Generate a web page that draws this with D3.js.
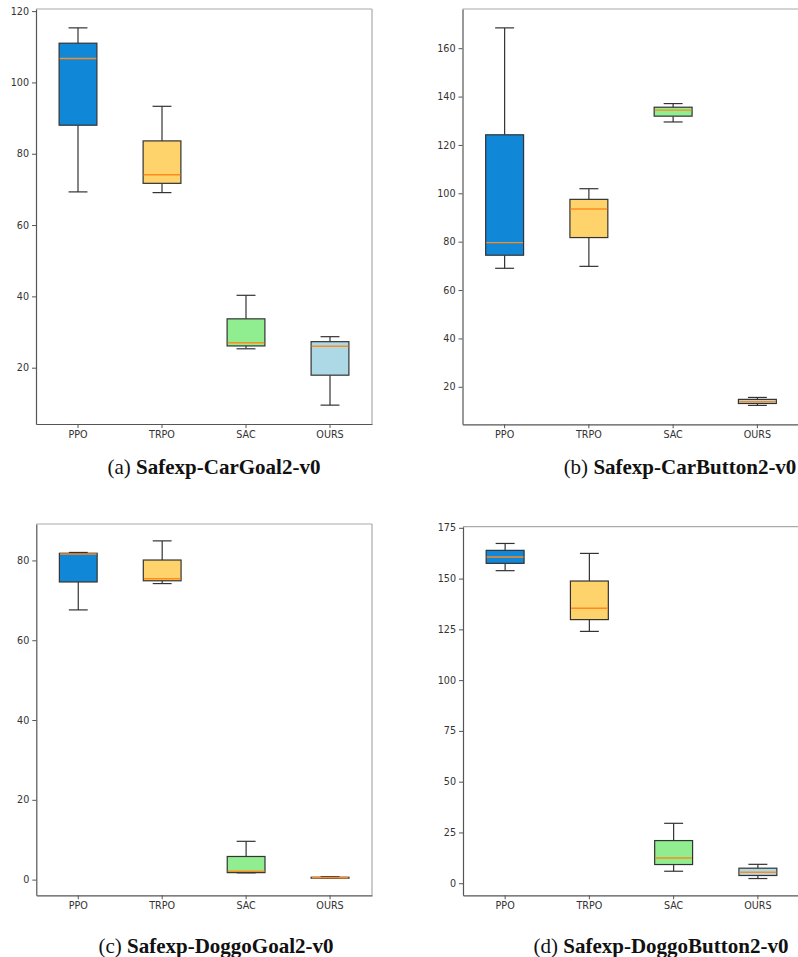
<!DOCTYPE html>
<html>
<head>
<meta charset="utf-8">
<script src="https://cdn.jsdelivr.net/npm/d3@7"></script>
<style>
  html, body { margin: 0; padding: 0; background: #fff; }
  svg { display: block; }
  .tick text { font-family: "DejaVu Sans", sans-serif; font-size: 9.6px; fill: #333; }
  .caption { font-family: "Liberation Serif", "Times New Roman", serif; font-size: 21px; fill: #111; }
</style>
</head>
<body>
<svg id="chart" width="798" height="957"></svg>
<script>
// Algorithms compared in every environment
const methods = ["PPO", "TRPO", "SAC", "OURS"];
const boxFills = ["#1088d7", "#ffd36b", "#90ee90", "#add8e6"];

// Box statistics per method: [lower whisker, Q1, median, Q3, upper whisker]
const carGoal = [
  [69.3, 88.0, 106.7, 111.0, 115.3],
  [69.1, 71.7, 74.1, 83.6, 93.3],
  [25.3, 26.1, 27.0, 33.7, 40.3],
  [9.5, 17.9, 26.0, 27.3, 28.7]
];
const carButton = [
  [69.0, 74.4, 79.6, 124.2, 168.4],
  [69.8, 81.7, 93.5, 97.5, 101.9],
  [129.5, 131.9, 134.4, 135.6, 137.1],
  [12.3, 13.1, 13.8, 14.8, 15.6]
];
const doggoGoal = [
  [67.6, 74.6, 81.6, 81.8, 82.0],
  [74.2, 74.9, 75.4, 80.1, 84.9],
  [1.7, 1.75, 2.1, 5.8, 9.6],
  [0.3, 0.35, 0.45, 0.6, 0.7]
];
const doggoButton = [
  [153.9, 157.5, 160.6, 163.9, 167.3],
  [124.0, 129.8, 135.4, 148.8, 162.4],
  [5.9, 9.2, 12.4, 21.0, 29.5],
  [2.3, 3.8, 5.4, 7.4, 9.3]
];

// Y tick values per environment
const carGoalTicks = [20, 40, 60, 80, 100, 120];
const carButtonTicks = [20, 40, 60, 80, 100, 120, 140, 160];
const doggoGoalTicks = [0, 20, 40, 60, 80];
const doggoButtonTicks = [0, 25, 50, 75, 100, 125, 150, 175];

const captionTags = ["(a)", "(b)", "(c)", "(d)"];
const captionNames = ["Safexp-CarGoal2-v0", "Safexp-CarButton2-v0", "Safexp-DoggoGoal2-v0", "Safexp-DoggoButton2-v0"];

const panels = [
  { stats: carGoal, ticks: carGoalTicks, x0: 36, x1: 372, y0: 9, y1: 424, cx: 214, cy: 474 },
  { stats: carButton, ticks: carButtonTicks, x0: 462.5, x1: 799.5, y0: 9, y1: 424.3, cx: 680, cy: 474 },
  { stats: doggoGoal, ticks: doggoGoalTicks, x0: 36.3, x1: 372, y0: 524, y1: 895.3, cx: 216, cy: 953 },
  { stats: doggoButton, ticks: doggoButtonTicks, x0: 463, x1: 800, y0: 526.7, y1: 895.3, cx: 661, cy: 953 }
];

const svg = d3.select("#chart");

panels.forEach((p, i) => {
  const g = svg.append("g");

  // y range padded by 5% of the whisker span on each side
  const lo = d3.min(p.stats, s => s[0]);
  const hi = d3.max(p.stats, s => s[4]);
  const pad = (hi - lo) * 0.05;
  const y = d3.scaleLinear().domain([lo - pad, hi + pad]).range([p.y1, p.y0]);

  const x = d3.scaleBand().domain(methods).range([p.x0, p.x1]).paddingInner(0).paddingOuter(0);
  const bw = x.bandwidth() * 0.45;
  const capW = bw / 2;

  // frame: top and right spines lighter
  g.append("line").attr("x1", p.x0).attr("x2", p.x1).attr("y1", p.y0).attr("y2", p.y0)
    .attr("stroke", "#aaa").attr("stroke-width", 1.2);
  g.append("line").attr("x1", p.x1).attr("x2", p.x1).attr("y1", p.y0).attr("y2", p.y1)
    .attr("stroke", "#aaa").attr("stroke-width", 1.2);

  // axes
  const yAxis = d3.axisLeft(y).tickValues(p.ticks).tickSize(4).tickSizeOuter(0).tickPadding(3).tickFormat(d3.format("d"));
  const gy = g.append("g").attr("transform", `translate(${p.x0},0)`).call(yAxis);
  const xAxis = d3.axisBottom(x).tickSize(4).tickSizeOuter(0).tickPadding(3);
  const gx = g.append("g").attr("transform", `translate(0,${p.y1})`).call(xAxis);
  [gy, gx].forEach(a => {
    a.select(".domain").attr("stroke", "#555").attr("stroke-width", 1.2);
    a.selectAll(".tick line").attr("stroke", "#555");
  });

  // boxes
  const box = g.selectAll(".box").data(p.stats).join("g").attr("class", "box")
    .attr("transform", (d, j) => `translate(${x(methods[j]) + x.bandwidth() / 2},0)`);

  // whiskers
  box.append("line").attr("x1", 0).attr("x2", 0).attr("y1", d => y(d[0])).attr("y2", d => y(d[1]))
    .attr("stroke", "#333").attr("stroke-width", 1.2);
  box.append("line").attr("x1", 0).attr("x2", 0).attr("y1", d => y(d[3])).attr("y2", d => y(d[4]))
    .attr("stroke", "#333").attr("stroke-width", 1.2);
  // caps
  box.append("line").attr("x1", -capW / 2).attr("x2", capW / 2).attr("y1", d => y(d[0])).attr("y2", d => y(d[0]))
    .attr("stroke", "#333").attr("stroke-width", 1.2);
  box.append("line").attr("x1", -capW / 2).attr("x2", capW / 2).attr("y1", d => y(d[4])).attr("y2", d => y(d[4]))
    .attr("stroke", "#333").attr("stroke-width", 1.2);
  // interquartile box
  box.append("rect").attr("x", -bw / 2).attr("width", bw)
    .attr("y", d => y(d[3])).attr("height", d => Math.max(0.5, y(d[1]) - y(d[3])))
    .attr("fill", (d, j) => boxFills[j]).attr("stroke", "#333").attr("stroke-width", 1.2);
  // median
  box.append("line").attr("x1", -bw / 2 + 0.6).attr("x2", bw / 2 - 0.6)
    .attr("y1", d => y(d[2])).attr("y2", d => y(d[2]))
    .attr("stroke", "#ff8a1f").attr("stroke-width", 1.4);

  // caption
  const t = svg.append("text").attr("class", "caption")
    .attr("x", p.cx).attr("y", p.cy).attr("text-anchor", "middle");
  t.append("tspan").text(captionTags[i] + " ");
  t.append("tspan").attr("font-weight", "bold").text(captionNames[i]);
});
</script>
</body>
</html>
